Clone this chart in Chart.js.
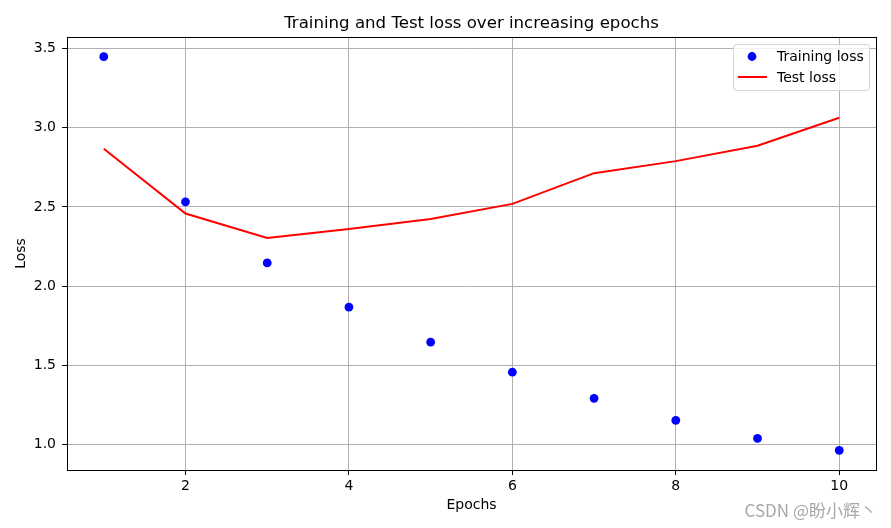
<!DOCTYPE html>
<html>
<head>
<meta charset="utf-8">
<script src="https://cdn.jsdelivr.net/npm/chart.js@4"></script>
<style>
  html, body { margin: 0; padding: 0; background: #fff; }
  #wrap { width: 891px; height: 528px; position: relative; }
</style>
</head>
<body>
<div id="wrap"><canvas id="lossCanvas" width="891" height="528"></canvas></div>
<script>
const epochs = [1, 2, 3, 4, 5, 6, 7, 8, 9, 10];
const trainingLoss = [3.449, 2.532, 2.146, 1.867, 1.646, 1.456, 1.291, 1.152, 1.038, 0.962];
const testLoss = [2.867, 2.458, 2.304, 2.361, 2.424, 2.519, 2.713, 2.789, 2.886, 3.063];
const xTicks = [2, 4, 6, 8, 10];
const yTicks = [1.0, 1.5, 2.0, 2.5, 3.0, 3.5];

const FONT = 'DejaVu Sans';

const toPoints = (ys) => epochs.map((x, i) => ({ x: x, y: ys[i] }));

// frame, title, legend box and watermark in the matplotlib style
const extras = {
  id: 'extras',
  afterDatasetsDraw(chart) {
    const { ctx, chartArea: a } = chart;
    ctx.save();
    ctx.strokeStyle = '#000';
    ctx.lineWidth = 1;
    ctx.strokeRect(Math.round(a.left) + 0.5, Math.round(a.top) + 0.5,
      Math.round(a.right - a.left), Math.round(a.bottom - a.top));

    // title
    ctx.fillStyle = '#000';
    ctx.font = '16.6px "' + FONT + '"';
    ctx.textAlign = 'center';
    ctx.textBaseline = 'middle';
    ctx.fillText('Training and Test loss over increasing epochs', (a.left + a.right) / 2, 24);

    // legend
    const bx = 733, by = 44, bw = 136, bh = 46;
    ctx.beginPath();
    ctx.roundRect(bx + 0.5, by + 0.5, bw, bh, 3);
    ctx.fillStyle = 'rgba(255,255,255,0.8)';
    ctx.fill();
    ctx.strokeStyle = '#d5d5d5';
    ctx.stroke();
    const ds = chart.data.datasets;
    ctx.fillStyle = ds[0].backgroundColor;
    ctx.beginPath();
    ctx.arc(752, 56.5, 4.4, 0, Math.PI * 2);
    ctx.fill();
    ctx.strokeStyle = ds[1].borderColor;
    ctx.lineWidth = 2;
    ctx.beginPath();
    ctx.moveTo(738, 77);
    ctx.lineTo(767, 77);
    ctx.stroke();
    ctx.fillStyle = '#000';
    ctx.font = '14px "' + FONT + '"';
    ctx.textAlign = 'left';
    ctx.fillText(ds[0].label, 777, 57);
    ctx.fillText(ds[1].label, 777, 78);

    // watermark
    ctx.font = '17px "Noto Sans CJK SC"';
    ctx.textAlign = 'right';
    ctx.fillStyle = '#a8a8a8';
    ctx.fillText('CSDN @盼小辉丶', 877, 511);
    ctx.restore();
  }
};

new Chart(document.querySelector('#lossCanvas').getContext('2d'), {
  type: 'scatter',
  data: {
    datasets: [
      {
        label: 'Training loss',
        data: toPoints(trainingLoss),
        showLine: false,
        backgroundColor: '#0000ff',
        borderColor: '#0000ff',
        pointRadius: 4.4,
        pointBorderWidth: 0,
        order: 1
      },
      {
        label: 'Test loss',
        data: toPoints(testLoss),
        showLine: true,
        backgroundColor: '#ff0000',
        borderColor: '#ff0000',
        borderWidth: 2,
        pointRadius: 0,
        tension: 0,
        order: 2
      }
    ]
  },
  options: {
    responsive: false,
    animation: false,
    events: [],
    layout: { padding: { left: 0, right: 15, top: 37, bottom: 0 } },
    plugins: {
      legend: { display: false },
      title: { display: false },
      tooltip: { enabled: false }
    },
    scales: {
      x: {
        type: 'linear',
        min: 0.55,
        max: 10.45,
        afterBuildTicks: (s) => { s.ticks = xTicks.map(v => ({ value: v })); },
        afterFit: (s) => { s.height = 58; },
        ticks: {
          color: '#000',
          font: { family: FONT, size: 14 },
          padding: 3,
          maxRotation: 0,
          callback: (v) => String(v)
        },
        grid: {
          color: '#b0b0b0',
          lineWidth: 1,
          tickColor: '#000',
          tickLength: 5
        },
        border: { display: false },
        title: {
          display: true,
          text: 'Epochs',
          color: '#000',
          font: { family: FONT, size: 14 },
          padding: { top: 0, bottom: 14 }
        }
      },
      y: {
        type: 'linear',
        min: 0.838,
        max: 3.573,
        afterBuildTicks: (s) => { s.ticks = yTicks.map(v => ({ value: v })); },
        afterFit: (s) => { s.width = 67; },
        ticks: {
          color: '#000',
          font: { family: FONT, size: 14 },
          padding: 6,
          callback: (v) => Number(v).toFixed(1)
        },
        grid: {
          color: '#b0b0b0',
          lineWidth: 1,
          tickColor: '#000',
          tickLength: 5
        },
        border: { display: false },
        title: {
          display: true,
          text: 'Loss',
          color: '#000',
          font: { family: FONT, size: 14 },
          padding: { top: 13, bottom: 0 }
        }
      }
    }
  },
  plugins: [extras]
});
</script>
</body>
</html>
